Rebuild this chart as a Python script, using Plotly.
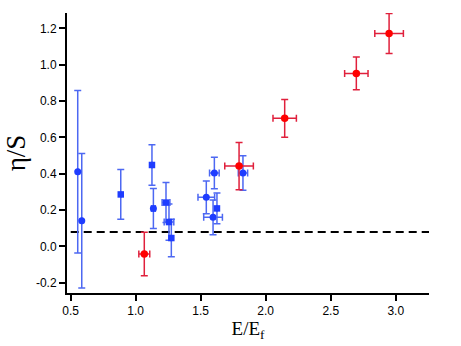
import math
import plotly.graph_objects as go

# ── Data ─────────────────────────────────────────────
blue_circle_x = [0.554, 0.585, 1.136, 1.543, 1.605, 1.595, 1.825]
blue_circle_y = [0.411, 0.141, 0.209, 0.270, 0.404, 0.160, 0.404]
blue_circle_ey = [0.447, 0.370, 0.110, 0.090, 0.087, 0.096, 0.095]
blue_circle_ex = [0.0, 0.0, 0.015, 0.064, 0.037, 0.072, 0.036]

blue_square_x = [0.885, 1.125, 1.233, 1.256, 1.274, 1.625]
blue_square_y = [0.286, 0.448, 0.241, 0.134, 0.046, 0.209]
blue_square_ey = [0.137, 0.112, 0.110, 0.100, 0.103, 0.085]
blue_square_ex = [0.0, 0.0, 0.030, 0.037, 0.0, 0.0]

red_x = [1.066, 1.795, 2.146, 2.697, 2.949]
red_y = [-0.042, 0.442, 0.705, 0.952, 1.172]
red_ey = [0.120, 0.130, 0.104, 0.090, 0.110]
red_ex = [0.042, 0.110, 0.090, 0.090, 0.110]

# KSS bound 1/(4 pi)
bound_x = [0.5, 3.26]
bound_y = [1 / (4 * math.pi)] * 2

x_ticks = [0.5, 1.0, 1.5, 2.0, 2.5, 3.0]
y_ticks = [-0.2, 0.0, 0.2, 0.4, 0.6, 0.8, 1.0, 1.2]
y_ticktext = ["-0.2", "0.0", "0.2", "0.4", "0.6", "0.8", "1.0", "1.2"]

BLUE = "#1e3cff"
BLUE_ERR = "#4d68f2"
RED = "#ff0000"
RED_ERR = "#e0203c"


def err(vals, color):
    return dict(type="data", array=vals, visible=True, color=color,
                thickness=1.5, width=3.5)


fig = go.Figure()

fig.add_trace(go.Scatter(
    x=bound_x, y=bound_y, mode="lines",
    line=dict(color="black", width=2, dash="8px,5px"),
    hoverinfo="skip",
))

fig.add_trace(go.Scatter(
    x=blue_circle_x, y=blue_circle_y, mode="markers",
    marker=dict(symbol="circle", size=7, color=BLUE),
    error_y=err(blue_circle_ey, BLUE_ERR),
    error_x=err(blue_circle_ex, BLUE_ERR),
))

fig.add_trace(go.Scatter(
    x=blue_square_x, y=blue_square_y, mode="markers",
    marker=dict(symbol="square", size=6.5, color=BLUE),
    error_y=err(blue_square_ey, BLUE_ERR),
    error_x=err(blue_square_ex, BLUE_ERR),
))

fig.add_trace(go.Scatter(
    x=red_x, y=red_y, mode="markers",
    marker=dict(symbol="circle", size=7.5, color=RED),
    error_y=err(red_ey, RED_ERR),
    error_x=err(red_ex, RED_ERR),
))

axis_style = dict(
    showline=True, linewidth=2, linecolor="black",
    ticks="outside", ticklen=6, tickwidth=2, tickcolor="black",
    showgrid=False, zeroline=False, mirror=False, automargin=False,
    tickfont=dict(family="Liberation Sans, Arial", size=12, color="black"),
)

fig.update_xaxes(
    range=[0.4715, 3.256], tickvals=x_ticks, ticktext=[f"{v:.1f}" for v in x_ticks],
    title=dict(text="E/E<sub>f</sub>", standoff=0,
               font=dict(family="Liberation Serif, Times New Roman", size=19, color="black")),
    **axis_style,
)
fig.update_yaxes(
    range=[-0.2565, 1.2845], tickvals=y_ticks, ticktext=y_ticktext,
    title=dict(text="η/S", standoff=2,
               font=dict(family="Liberation Serif, Times New Roman", size=27, color="black")),
    **axis_style,
)

fig.update_layout(
    width=461, height=346,
    margin=dict(l=67, r=32, t=13, b=53),
    plot_bgcolor="white", paper_bgcolor="white",
    showlegend=False,
)

# drop the browser's default 8px body margin so the figure sits at (0, 0)
fig.write_html("out.html", config={"displayModeBar": False},
               post_script="document.body.style.margin='0';")
